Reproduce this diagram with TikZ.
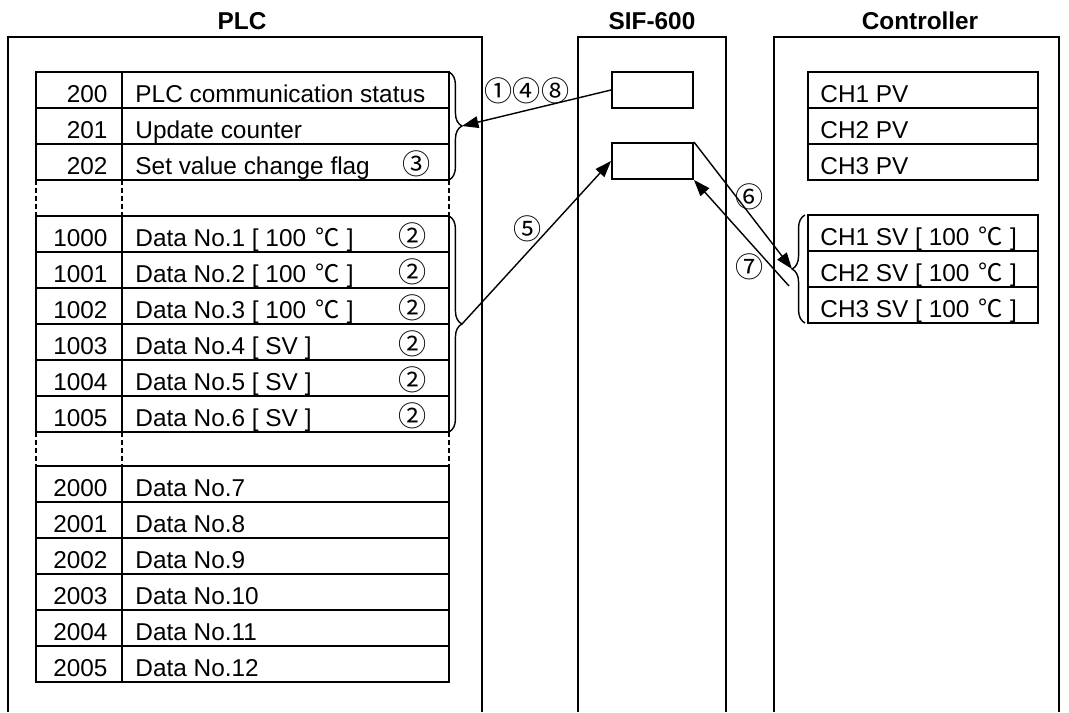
\documentclass[tikz,border=0pt]{standalone}
\usepackage{fontspec}
\setmainfont{Liberation Sans}
\newfontfamily\cjk{Noto Sans CJK JP}
\usetikzlibrary{%
  arrows.meta,
  positioning,
  decorations.pathreplacing,
  calc
}

\begin{document}
\begin{tikzpicture}[x=0.015cm,y=-0.015cm,
    font=\fontsize{10.4}{12}\selectfont,
    frame/.style={line width=0.8pt},
    cell/.style={line width=0.45pt},
    outer/.style={line width=0.9pt},
    gap/.style={line width=0.8pt,dash pattern=on 2pt off 1.4pt},
    addr/.style={anchor=base east,inner sep=0pt},
    txt/.style={anchor=base west,inner sep=0pt},
    circnum/.style={inner sep=0pt,font=\fontsize{12}{14}\cjk},
    hdr/.style={font=\fontsize{10.4}{12}\selectfont\bfseries},
    regbox/.style={draw,line width=0.8pt,minimum width=34.6pt,minimum height=15.4pt,inner sep=0pt},
    curly/.style={decorate,decoration={brace,amplitude=5.5pt},line width=0.6pt},
    link/.style={line width=0.6pt,-{Triangle[length=7pt,width=5pt]}}]
  \useasboundingbox (0,0) rectangle (1069,712);

  % frames, open at the bottom
  \draw[frame] (8,712) |- (482,37) -- (482,712);
  \draw[frame] (578,712) |- (726,37) -- (726,712);
  \draw[frame] (774,712) |- (1059,37) -- (1059,712);
  \node[hdr] (hplc) at (242,21) {PLC};
  \node[hdr] (hsif) at (652,21) {SIF-600};
  \node[hdr] (hctl) at (920,21) {Controller};

  % one row of the PLC table: top y, address, label
  \def\plcrow(#1)#2#3{
    \draw[cell] (36,#1) rectangle (449,#1+36);
    \draw[cell] (122,#1) -- (122,#1+36);
    \node[addr] (a#2) at (108,#1+30) {#2};
    \node[txt] (l#2) at (135,#1+30) {#3};
  }
  \def\degc{\hspace{4pt}{\cjk ℃}\hspace{3pt}}
  \foreach \ad/\lb [count=\i from 0] in {200/PLC communication status,
      201/Update counter,202/Set value change flag} {
    \plcrow(72+36*\i){\ad}{\lb}
  }
  \foreach \ad/\lb [count=\i from 0] in {1000/{Data No.1 [ 100\degc]},
      1001/{Data No.2 [ 100\degc]},1002/{Data No.3 [ 100\degc]},
      1003/{Data No.4 [ SV ]},1004/{Data No.5 [ SV ]},1005/{Data No.6 [ SV ]}} {
    \plcrow(216+36*\i){\ad}{\lb}
    \node[circnum] (two\i) at (413,216+36*\i+20) {②};
  }
  \foreach \ad [count=\i from 0] in {2000,...,2005} {
    \pgfmathtruncatemacro{\n}{\i+7}
    \plcrow(466+36*\i){\ad}{Data No.\n}
  }
  \draw[outer] (36,72) rectangle (449,180);
  \draw[outer] (36,216) rectangle (449,432);
  \draw[outer] (36,466) rectangle (449,682);
  \foreach \x in {36,122,449} {
    \draw[gap] (\x,180) -- (\x,216);
    \draw[gap] (\x,432) -- (\x,466);
  }
  \node[circnum] (three) at (417,164) {③};

  % controller tables
  \foreach \ch [count=\i from 0] in {1,2,3} {
    \draw[cell] (808,72+36*\i) rectangle (1038,108+36*\i);
    \node[txt] (pv\ch) at (820,102+36*\i) {CH\ch\ PV};
    \draw[cell] (808,215+36*\i) rectangle (1038,251+36*\i);
    \node[txt] (sv\ch) at (820,245+36*\i) {CH\ch\ SV [ 100\degc]};
  }
  \draw[outer] (808,72) rectangle (1038,180);
  \draw[outer] (808,215) rectangle (1038,323);

  % braces
  \draw[curly] (449,72) -- (449,180);
  \draw[curly] (449,216) -- (449,432);
  \draw[curly] (805,323) -- (805,215);
  \coordinate (tipA) at (462,126);
  \coordinate (tipB) at (462,324);
  \coordinate (tipC) at (792,269);
  \coordinate (back) at (789,286);

  % SIF-600 registers
  \node[regbox] (sifA) at (652.5,90) {};
  \node[regbox] (sifB) at (652.5,161) {};

  % transfers
  \draw[link] (sifA.west) -- (tipA);
  \draw[link] (tipB) -- (sifB.west);
  \draw[link] (sifB.north east) -- (tipC);
  \draw[link] (back) -- (sifB.south east);

  \node[circnum] (s148) at (527,91) {①④⑧};
  \node[circnum] (s5) at (528,229) {⑤};
  \node[circnum] (s6) at (750,197) {⑥};
  \node[circnum] (s7) at (750,267) {⑦};
\end{tikzpicture}
\end{document}
